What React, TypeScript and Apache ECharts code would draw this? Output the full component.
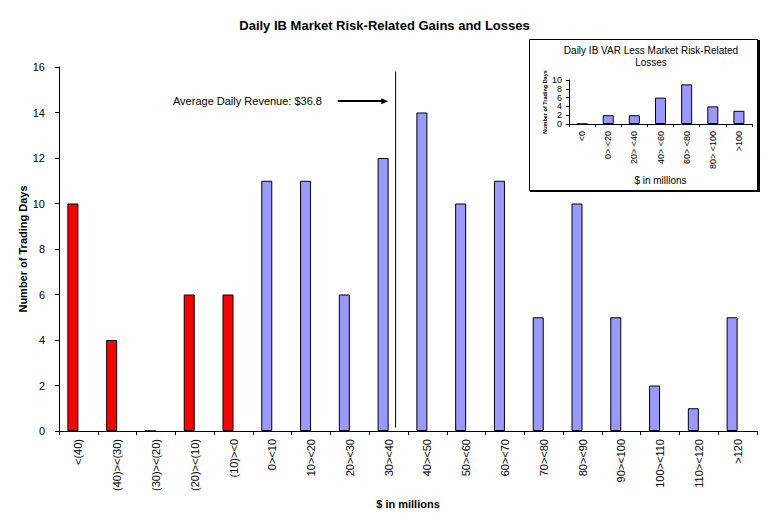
import React, { useEffect, useRef } from "react";
import * as echarts from "echarts";

// ---- Main chart data ----
const mainCategories = [
  "<(40)", "(40)><(30)", "(30)><(20)", "(20)><(10)", "(10)><0",
  "0><10", "10><20", "20><30", "30><40", "40><50", "50><60", "60><70",
  "70><80", "80><90", "90><100", "100><110", "110><120", ">120",
];
const lossDays = [10, 4, 0, 6, 6];
const gainDays = [11, 11, 6, 12, 14, 10, 11, 5, 10, 5, 2, 1, 5];
const yTicks = { min: 0, max: 16, interval: 2 };

// bins are $10m wide, from -50 to 130
const binRange = { min: -50, max: 130 };
const averageRevenue = 36.8;
const averageLineSpan = [15.8, 0.15];
const arrowFromTo = [21.9, 34.0];
const arrowLevel = 14.5;

// ---- Inset chart data ----
const varCategories = ["<0", "0> <20", "20> <40", "40> <60", "60> <80", "80> <100", ">100"];
const varDays = [0, 2, 2, 6, 9, 4, 3];
const varRange = { min: 0, max: 10 };
const varTickLabels = ["0", "2", "4", "6", "8", "10"];

const FONT = "'Liberation Sans', Arial, sans-serif";
const RED = "#FF0000";
const BLUE = "#9999FF";

export default function App() {
  const ref = useRef<HTMLDivElement>(null);

  useEffect(() => {
    if (!ref.current) return;
    const chart = echarts.init(ref.current, undefined, { renderer: "svg" });

    const lossData = [...lossDays, ...gainDays.map(() => "-")];
    const gainData = [...lossDays.map(() => "-"), ...gainDays];

    const axisLine = { show: true, onZero: false, lineStyle: { color: "#000", width: 1 } };

    const option: any = {
      animation: false,
      backgroundColor: "#fff",
      textStyle: { fontFamily: FONT },
      title: {
        text: "Daily IB Market Risk-Related Gains and Losses",
        left: "center",
        top: 14,
        textStyle: { fontFamily: FONT, fontSize: 13, fontWeight: "bold", color: "#000" },
      },
      grid: [
        { left: 59, top: 67, width: 698, height: 364 },
        { left: 569, top: 80, width: 183, height: 44 },
      ],
      xAxis: [
        {
          type: "category",
          gridIndex: 0,
          data: mainCategories,
          boundaryGap: true,
          axisLine,
          axisTick: { show: true, length: 4, lineStyle: { color: "#000" } },
          axisLabel: {
            rotate: 90,
            interval: 0,
            margin: 8,
            fontFamily: FONT,
            fontSize: 11,
            color: "#000",
          },
          name: "$ in millions",
          nameLocation: "middle",
          nameGap: 67,
          nameTextStyle: { fontFamily: FONT, fontSize: 11, fontWeight: "bold", color: "#000" },
          splitLine: { show: false },
        },
        {
          type: "value",
          gridIndex: 0,
          min: binRange.min,
          max: binRange.max,
          show: false,
        },
        {
          type: "category",
          gridIndex: 1,
          data: varCategories,
          boundaryGap: true,
          axisLine,
          axisTick: { show: true, length: 3, lineStyle: { color: "#000" } },
          axisLabel: {
            rotate: 90,
            interval: 0,
            margin: 7,
            fontFamily: FONT,
            fontSize: 9,
            color: "#000",
          },
          name: "$ in millions",
          nameLocation: "middle",
          nameGap: 51,
          nameTextStyle: { fontFamily: FONT, fontSize: 10, color: "#000" },
          splitLine: { show: false },
        },
      ],
      yAxis: [
        {
          type: "value",
          gridIndex: 0,
          position: "left",
          min: yTicks.min,
          max: yTicks.max,
          interval: yTicks.interval,
          axisLine,
          axisTick: { show: true, length: 4, lineStyle: { color: "#000" } },
          axisLabel: { margin: 14, fontFamily: FONT, fontSize: 11, color: "#000" },
          splitLine: { show: false },
          name: "Number of Trading Days",
          nameLocation: "middle",
          nameGap: 31,
          nameMoveOverlap: false,
          nameRotate: 90,
          nameTextStyle: { fontFamily: FONT, fontSize: 11, fontWeight: "bold", color: "#000" },
        },
        {
          // visible tick axis of the inset (labels 0..10)
          type: "category",
          gridIndex: 1,
          position: "left",
          data: varTickLabels,
          boundaryGap: false,
          axisLine,
          axisTick: { show: true, length: 3, interval: 0, lineStyle: { color: "#000" } },
          axisLabel: { interval: 0, margin: 7, fontFamily: FONT, fontSize: 9, color: "#000" },
          splitLine: { show: false },
          name: "Number of Trading Days",
          nameLocation: "middle",
          nameGap: 21,
          nameMoveOverlap: false,
          nameRotate: 90,
          nameTextStyle: { fontFamily: FONT, fontSize: 5.5, fontWeight: "bold", color: "#000" },
        },
        {
          // value scale of the inset bars
          type: "value",
          gridIndex: 1,
          position: "left",
          min: varRange.min,
          max: varRange.max,
          show: false,
        },
      ],
      graphic: [
        {
          type: "rect",
          z: -10,
          silent: true,
          shape: { x: 530, y: 40, width: 230, height: 152 },
          style: { fill: "#000" },
        },
        {
          type: "rect",
          z: -9,
          silent: true,
          shape: { x: 529.5, y: 39.5, width: 228, height: 151 },
          style: { fill: "#fff", stroke: "#000", lineWidth: 1 },
        },
        {
          type: "text",
          z: 10,
          x: 651,
          y: 45,
          style: {
            text: "Daily IB VAR Less Market Risk-Related\nLosses",
            align: "center",
            verticalAlign: "top",
            lineHeight: 11.5,
            font: `10px ${FONT}`,
            fill: "#000",
          },
        },
        {
          type: "text",
          z: 10,
          x: 322,
          y: 101,
          style: {
            text: `Average Daily Revenue: $${averageRevenue}`,
            align: "right",
            verticalAlign: "middle",
            font: `11px ${FONT}`,
            fill: "#000",
          },
        },
      ],
      series: [
        {
          name: "Losses",
          type: "bar",
          xAxisIndex: 0,
          yAxisIndex: 0,
          stack: "days",
          barWidth: 11,
          barGap: "0%",
          data: lossData,
          itemStyle: { color: RED, borderColor: "#000", borderWidth: 1 },
        },
        {
          name: "Gains",
          type: "bar",
          xAxisIndex: 0,
          yAxisIndex: 0,
          stack: "days",
          barWidth: 11,
          barGap: "0%",
          data: gainData,
          itemStyle: { color: BLUE, borderColor: "#000", borderWidth: 1 },
        },
        {
          name: "spacer",
          type: "bar",
          xAxisIndex: 0,
          yAxisIndex: 0,
          barWidth: 11,
          barGap: "0%",
          silent: true,
          data: mainCategories.map(() => "-"),
        },
        {
          name: "Average",
          type: "line",
          xAxisIndex: 1,
          yAxisIndex: 0,
          symbol: "none",
          silent: true,
          data: averageLineSpan.map((v) => [averageRevenue, v]),
          lineStyle: { color: "#000", width: 1 },
          markLine: {
            silent: true,
            symbol: ["none", "triangle"],
            symbolSize: [6, 7],
            label: { show: false },
            lineStyle: { color: "#000", width: 2, type: "solid" },
            data: [
              [
                { coord: [arrowFromTo[0], arrowLevel] },
                { coord: [arrowFromTo[1], arrowLevel] },
              ],
            ],
          },
        },
        {
          name: "VAR",
          type: "bar",
          xAxisIndex: 2,
          yAxisIndex: 2,
          barWidth: 11,
          data: varDays,
          itemStyle: { color: BLUE, borderColor: "#000", borderWidth: 1 },
        },
      ],
    };

    chart.setOption(option);
    return () => chart.dispose();
  }, []);

  return (
    <div
      ref={ref}
      style={{ position: "fixed", left: 0, top: 0, width: 769, height: 526, background: "#fff" }}
    />
  );
}
